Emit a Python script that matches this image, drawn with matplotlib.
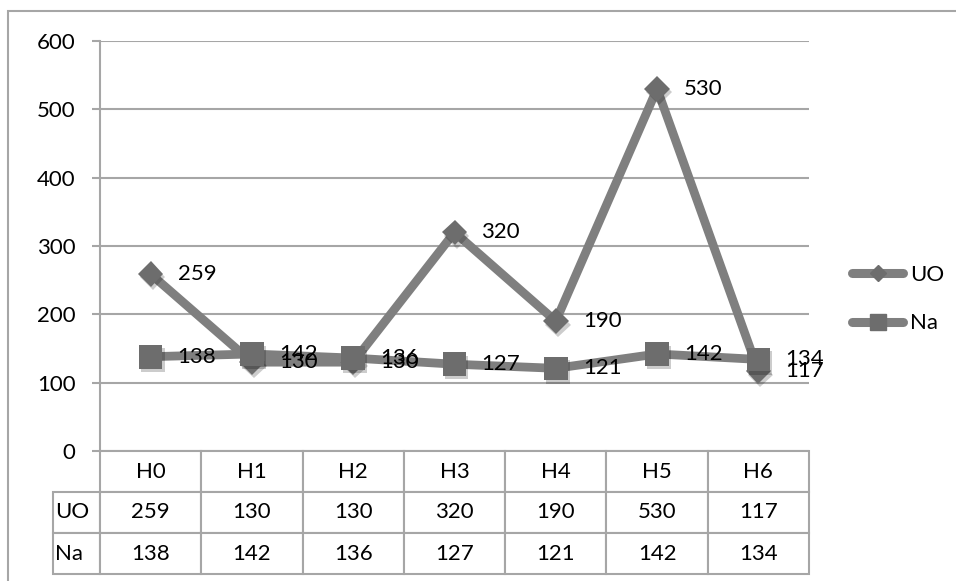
import matplotlib
matplotlib.use('Agg')
import matplotlib.pyplot as plt
import matplotlib.patheffects as pe
from matplotlib.lines import Line2D
from matplotlib.patches import Rectangle
from matplotlib.table import Table

hours = ['H0', 'H1', 'H2', 'H3', 'H4', 'H5', 'H6']
uo = [259, 130, 130, 320, 190, 530, 117]
na = [138, 142, 136, 127, 121, 142, 134]
series_names = ['UO', 'Na']
yticks = [0, 100, 200, 300, 400, 500, 600]

plt.rcParams['font.family'] = ['Lato', 'DejaVu Sans']
plt.rcParams['font.size'] = 16

W, H = 956, 581
fig = plt.figure(figsize=(W / 100, H / 100), dpi=100)
ax = fig.add_axes([100 / W, 1 - 451 / H, 709 / W, 410 / H])

grid_c = '#a6a6a6'
line_c = '#7f7f7f'
mark_c = '#6d6d6d'

x = list(range(len(hours)))
shadow = [pe.SimplePatchShadow(offset=(1.5, -2.5), shadow_rgbFace='k', alpha=0.2),
          pe.Normal()]
for vals, mk, ms in [(uo, 'D', 13), (na, 's', 17)]:
    ax.plot(x, vals, color=line_c, lw=6.3, solid_joinstyle='round', zorder=3)
    ax.plot(x, vals, ls='none', marker=mk, ms=ms, mfc=mark_c, mec=mark_c, mew=0,
            zorder=3, path_effects=shadow)

# value labels to the right of each point
for vals in (uo, na):
    for i, v in enumerate(vals):
        ax.annotate(str(v), (i, v), xytext=(27, 0), textcoords='offset pixels',
                    ha='left', va='center', fontsize=16, zorder=5)

ax.set_xlim(-0.5, 6.5)
ax.set_ylim(0, 600)
ax.set_yticks(yticks)
ax.set_xticks([])
for s in ('top', 'right', 'bottom'):
    ax.spines[s].set_visible(False)
ax.spines['left'].set_color(grid_c)
ax.spines['left'].set_linewidth(1.5)
ax.spines['left'].set_bounds(0, 600)
ax.yaxis.grid(True, color=grid_c, lw=1.5)
ax.set_axisbelow(True)
ax.tick_params(axis='y', length=5.5, width=1.5, color=grid_c, pad=12, labelsize=16)

# data table under the plot; bbox covers the value grid, row labels sit to its left
tbl = Table(ax, bbox=[0, -123 / 410, 1, 123 / 410])
col_w, lab_w, row_h = 1 / 7, 47 / 709, 1 / 3
for j, h in enumerate(hours):
    tbl.add_cell(0, j, col_w, row_h, text=h, loc='center')
for i, (name, vals) in enumerate(zip(series_names, (uo, na)), start=1):
    tbl.add_cell(i, -1, lab_w, row_h, text=name, loc='left')
    for j, v in enumerate(vals):
        tbl.add_cell(i, j, col_w, row_h, text=str(v), loc='center')
tbl.auto_set_font_size(False)
tbl.set_fontsize(16)
for (r, c), cell in tbl.get_celld().items():
    cell.set_edgecolor(grid_c)
    cell.set_linewidth(1.5)
    if c == -1:
        cell.PAD = 0.04
ax.add_table(tbl)

# outer chart frame
fig.add_artist(Rectangle((8 / W, -0.1), 1.2, 1 - 11 / H + 0.1, transform=fig.transFigure,
                         fill=False, ec=grid_c, lw=1.5, clip_on=False))

handles = [
    Line2D([], [], color=line_c, lw=6.5, solid_capstyle='round', marker='D', ms=8,
           mfc=mark_c, mec=mark_c),
    Line2D([], [], color=line_c, lw=6.5, solid_capstyle='round', marker='s', ms=12,
           mfc=mark_c, mec=mark_c),
]
fig.legend(handles, series_names, loc='center left', bbox_to_anchor=(852 / W, 1 - 299 / H),
           frameon=False, borderpad=0, borderaxespad=0, handlelength=2.3,
           handletextpad=0.3, labelspacing=1.3, fontsize=16)

fig.savefig('out.png', dpi=100)
